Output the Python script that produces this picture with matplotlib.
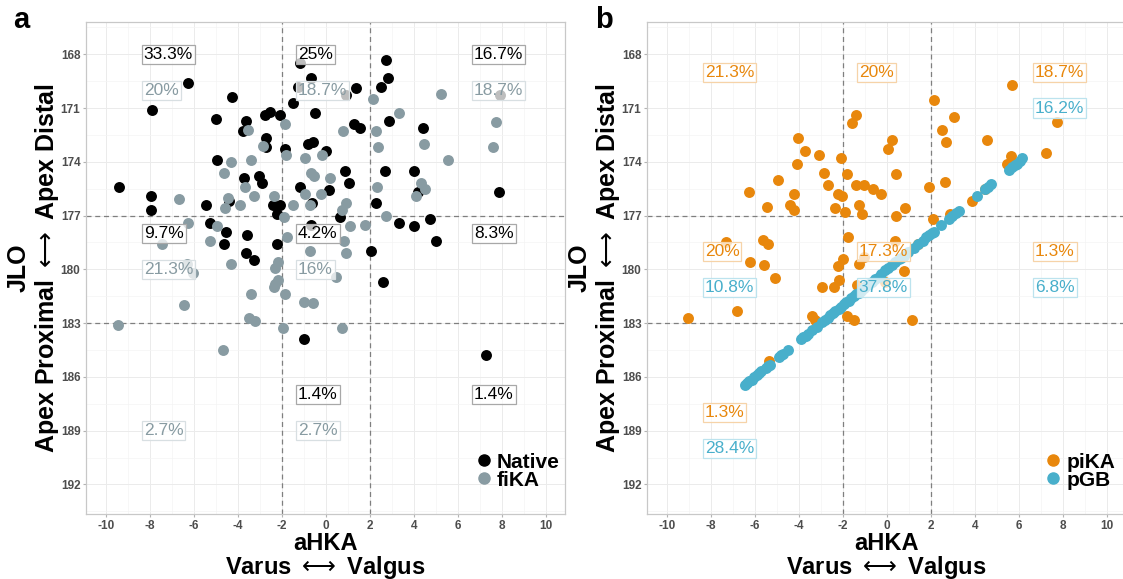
import matplotlib
matplotlib.use("Agg")
import matplotlib.pyplot as plt
import matplotlib.ticker as mticker
from matplotlib.lines import Line2D

plt.rcParams.update({
    "font.family": ["Liberation Sans", "DejaVu Sans"],
    "mathtext.fontset": "dejavusans",
    "axes.unicode_minus": False,
    "figure.facecolor": "white",
    "axes.facecolor": "white",
})

BLACK = "#000000"
GRAY = "#889BA2"
ORANGE = "#E8870C"
BLUE = "#48AFCB"
TICK_TXT = "#4D4D4D"

# ── Data: panel a ─────────────────────────────────────────────────────────────
native_x = [-6.25, -7.9, -4.26, -4.99, -3.62, -3.79, -2.79, -2.53, -2.09, -2.73, -2.73, -1.86,
            -4.94, -3.74, -3.03, -2.9, -9.4, -7.93, -7.97, -5.47, -4.4, -2.43, -2.11, -2.21,
            -1.18, -0.7, -1.5, -0.49, -0.82, -0.61, 0.01, -1.18, -0.64, 0.15, 0.86, 1.03,
            0.91, 1.36, 1.29, 1.56, -1.29,
            2.26, 2.7, 2.8, 2.5, 2.88, 4.41, 2.66, 4.0, 7.85, 4.17, 7.9,
            -5.26, -4.55, -4.65, -3.59, -3.64, -3.29, -2.23,
            -0.7, 0.64,
            3.3, 4.0, 4.7, 4.98, 2.05, 2.6,
            -0.99, 7.27]
native_y = [169.6, 171.1, 170.4, 171.6, 171.7, 172.3, 171.4, 171.2, 171.4, 172.7, 173.2, 173.3,
            173.9, 174.9, 174.8, 175.2, 175.4, 175.9, 176.7, 176.4, 176.2, 176.4, 176.4, 176.9,
            168.5, 169.3, 170.7, 171.3, 173.0, 172.9, 173.4, 175.4, 176.3, 175.6, 174.5, 175.2,
            170.3, 169.9, 171.9, 172.1, 169.8,
            176.3, 168.3, 169.3, 169.8, 171.7, 172.1, 174.5, 174.5, 175.7, 175.7, 170.3,
            177.4, 177.9, 178.6, 178.1, 179.1, 179.5, 178.6,
            177.5, 177.1,
            177.4, 177.6, 177.2, 178.4, 179.0, 180.7,
            183.9, 184.8]

fika_x = [2.12, 2.27, 2.35, -1.86, -3.56, -2.88, -1.84, -3.41, -4.32, -4.62, -3.7, -3.26, -2.36,
          -4.43, -3.93, -4.58, -6.7, -6.26, -4.93, -1.91, -1.52, -0.94, -0.7, -0.56, -0.2, 0.18,
          -0.94, -0.21, -0.71, 0.91, 0.73, 0.76, 1.09, 1.79, 5.2, 3.29, 4.44, 5.54, 7.71, 7.59,
          2.32, 4.32, 4.48, 4.07, 2.71, -7.44, -5.27, -4.32, -6.32, -6.06, -6.47, -9.47, -4.7,
          -3.41, -3.49, -3.21, -2.2, -2.3, -2.2, -2.38, -2.32, -1.77, -1.86, -1.94, -0.74, -1.0,
          -0.59, 0.44, 0.71, 0.8, 0.92]
fika_y = [170.5, 172.3, 173.2, 171.9, 172.2, 173.1, 173.6, 173.9, 174.0, 174.6, 175.4, 175.9, 175.9,
          176.0, 176.4, 176.6, 176.1, 177.4, 177.6, 177.1, 176.4, 173.8, 174.6, 174.8, 173.6, 174.9,
          175.8, 175.8, 176.4, 176.3, 176.7, 172.3, 177.6, 177.5, 170.2, 171.3, 173.0, 173.9, 171.8,
          173.2, 175.4, 175.2, 175.5, 175.9, 177.0, 178.6, 178.4, 179.7, 179.7, 180.2, 182.0, 183.1,
          184.5, 181.4, 182.7, 182.9, 179.6, 179.9, 180.6, 181.0, 180.8, 178.2, 181.4, 183.3, 179.0,
          181.8, 181.9, 180.4, 183.3, 178.4, 179.1]

native_lab_x = [-8.5, -1.5, 6.5, -8.5, -1.5, 6.5, -1.5, 6.5]
native_lab_y = [168, 168, 168, 178, 178, 178, 187, 187]
native_lab = ["33.3%", "25%", "16.7%", "9.7%", "4.2%", "8.3%", "1.4%", "1.4%"]

fika_lab_x = [-8.5, -1.5, 6.5, -8.5, -1.5, -8.5, -1.5]
fika_lab_y = [170, 170, 170, 180, 180, 189, 189]
fika_lab = ["20%", "18.7%", "18.7%", "21.3%", "16%", "2.7%", "2.7%"]

# ── Data: panel b ─────────────────────────────────────────────────────────────
pika_x = [-4.06, -3.71, -3.07, -2.1, -4.09, -2.86, -4.97, -2.66, -6.25, -4.23, -2.24, -2.04,
          -5.44, -4.39, -4.21, -2.35,
          -1.39, -1.59, -1.8, -1.41, -1.05, -0.62, -0.27, -1.89, -1.27, -1.14, 0.05, 0.23, 0.4,
          0.84, 1.9,
          5.67, 2.12, 3.05, 7.7, 2.49, 2.68, 4.56, 7.23, 5.65, 5.43, 4.47, 3.84, 2.84, 2.62,
          -7.32, -5.65, -5.41, -6.21, -5.6, -5.07, -9.05, -6.82, -2.23, -2.2, -2.39, -2.97,
          -3.41, -3.25, -2.0,
          -1.77, -1.82, -1.51, -1.29, -1.03, -1.36, 1.41, 0.38, 0.76, -0.07, 1.14, 0.41,
          2.09, -5.38]
pika_y = [172.7, 173.4, 173.6, 173.8, 174.1, 174.6, 175.0, 175.3, 175.7, 175.8, 175.8, 175.9,
          176.5, 176.4, 176.7, 176.6,
          171.4, 171.85, 174.7, 175.3, 175.3, 175.5, 175.8, 176.8, 176.4, 176.9, 173.3, 172.8,
          174.7, 176.6, 175.4,
          169.7, 170.55, 171.5, 171.8, 172.2, 172.9, 172.8, 173.5, 173.7, 174.1, 175.5, 176.2,
          176.9, 175.1,
          178.45, 178.35, 178.6, 179.6, 179.75, 180.5, 182.7, 182.3, 179.8, 180.6, 181.0, 181.0,
          182.6, 182.8, 179.4,
          178.2, 182.6, 182.85, 179.7, 179.3, 180.9, 178.6, 178.4, 180.1, 180.7, 182.85, 177.0,
          177.2, 185.1]

pgb_x = [-6.47, -6.35, -6.25, -6.14, -6.02, -5.91, -5.80, -5.70, -5.49, -5.40, -5.33, -4.92,
         -4.82, -4.72, -4.50, -3.89, -3.80, -3.70, -3.60, -3.41, -3.18,
         -2.95, -2.80, -2.68, -2.57, -2.45, -2.35, -2.20, -2.08,
         -1.97, -1.85, -1.74, -1.62, -1.51, -1.40, -1.29, -1.18, -1.06, -0.95, -0.80, -0.68,
         -0.55, -0.38, -0.25, -0.07, 0.05, 0.23, 0.38, 0.53, 0.65, 0.76, 0.95, 1.21, 1.40,
         1.62, 1.78, 1.90,
         2.05, 2.12, 2.43, 2.80, 2.93,
         3.14, 3.25, 4.09, 4.47, 4.60, 4.73, 5.56, 5.68, 5.80, 5.91, 6.03, 6.14]
pgb_y = [186.45, 186.35, 186.25, 186.15, 186.0, 185.9, 185.8, 185.7, 185.5, 185.4, 185.35, 184.9,
         184.8, 184.7, 184.5, 183.9, 183.8, 183.7, 183.6, 183.4, 183.2,
         182.95, 182.8, 182.7, 182.55, 182.45, 182.35, 182.2, 182.1,
         181.95, 181.85, 181.75, 181.6, 181.5, 181.4, 181.3, 181.2, 181.05, 180.95, 180.8, 180.7,
         180.55, 180.4, 180.25, 180.05, 179.95, 179.75, 179.6, 179.45, 179.35, 179.25, 179.05,
         178.8, 178.6, 178.4, 178.2, 178.1,
         177.95, 177.9, 177.55, 177.2, 177.05,
         176.85, 176.75, 175.9, 175.5, 175.4, 175.25, 174.45, 174.3, 174.2, 174.1, 173.95, 173.8]

pika_lab_x = [-8.5, -1.5, 6.5, -8.5, -1.5, 6.5, -8.5]
pika_lab_y = [169, 169, 169, 179, 179, 179, 188]
pika_lab = ["21.3%", "20%", "18.7%", "20%", "17.3%", "1.3%", "1.3%"]

pgb_lab_x = [6.5, -8.5, -1.5, 6.5, -8.5]
pgb_lab_y = [171, 181, 181, 181, 190]
pgb_lab = ["16.2%", "10.8%", "37.8%", "6.8%", "28.4%"]

X_CUTS = [-2, 2]
Y_CUTS = [177, 183]


def style_panel(ax):
    ax.set_xlim(-10.9, 10.85)
    ax.set_ylim(193.65, 166.2)
    ax.set_xticks(range(-10, 11, 2))
    ax.set_yticks(range(168, 193, 3))
    ax.xaxis.set_minor_locator(mticker.MultipleLocator(1))
    ax.yaxis.set_minor_locator(mticker.MultipleLocator(1.5))
    ax.grid(which="major", color="#EBEBEB", linewidth=0.7, zorder=0)
    ax.grid(which="minor", color="#F4F4F4", linewidth=0.5, zorder=0)
    ax.set_axisbelow(True)
    for sp in ax.spines.values():
        sp.set_color("#C8C8C8")
        sp.set_linewidth(0.9)
    ax.tick_params(which="major", length=2.5, color="#B3B3B3", labelsize=8.5,
                   labelcolor=TICK_TXT, pad=1.5)
    ax.tick_params(which="minor", length=0)
    for lab in ax.get_xticklabels() + ax.get_yticklabels():
        lab.set_fontweight("bold")
    for xc in X_CUTS:
        ax.axvline(xc, color="#7F7F7F", linestyle=(0, (4, 3)), linewidth=0.9, zorder=1)
    for yc in Y_CUTS:
        ax.axhline(yc, color="#7F7F7F", linestyle=(0, (4, 3)), linewidth=0.9, zorder=1)
    ax.set_xlabel("aHKA\nVarus $\\longleftrightarrow$ Valgus", fontsize=17, fontweight="bold",
                  linespacing=0.95, labelpad=0)
    ax.set_ylabel("JLO\nApex Proximal $\\longleftrightarrow$ Apex Distal", fontsize=18,
                  fontweight="bold", linespacing=1.1, labelpad=0)


def put_labels(ax, xs, ys, texts, color, edge):
    for x, y, t in zip(xs, ys, texts):
        ax.text(x + 0.22, y, t, ha="left", va="center", fontsize=12.5, color=color, zorder=6,
                bbox=dict(boxstyle="square,pad=0.12", fc=(1, 1, 1, 0.75), ec=edge, lw=0.9))


fig = plt.figure(figsize=(11.23, 5.79), dpi=100)
ax1 = fig.add_axes([0.0766, 0.1123, 0.4265, 0.8497])
ax2 = fig.add_axes([0.5761, 0.1123, 0.4265, 0.8497])

# ── Panel a ──
style_panel(ax1)
ax1.scatter(native_x, native_y, s=62, color=BLACK, linewidths=0, zorder=3)
ax1.scatter(fika_x, fika_y, s=62, color=GRAY, linewidths=0, zorder=3)
put_labels(ax1, native_lab_x, native_lab_y, native_lab, BLACK, "#A8A8A8")
put_labels(ax1, fika_lab_x, fika_lab_y, fika_lab, GRAY, "#D8DFE2")
h1 = [Line2D([], [], marker="o", ls="", color=BLACK, markersize=8, label="Native"),
      Line2D([], [], marker="o", ls="", color=GRAY, markersize=8, label="fiKA")]
ax1.legend(handles=h1, loc="lower right", bbox_to_anchor=(1.02, 0.02), frameon=False,
           prop={"weight": "bold", "size": 15}, handletextpad=0.15, handlelength=1.0,
           labelspacing=-0.05, borderpad=0.2)

# ── Panel b ──
style_panel(ax2)
ax2.scatter(pika_x, pika_y, s=62, color=ORANGE, linewidths=0, zorder=3)
ax2.scatter(pgb_x, pgb_y, s=62, color=BLUE, linewidths=0, zorder=3)
put_labels(ax2, pika_lab_x, pika_lab_y, pika_lab, ORANGE, "#F6D3A8")
put_labels(ax2, pgb_lab_x, pgb_lab_y, pgb_lab, BLUE, "#BCE3EE")
h2 = [Line2D([], [], marker="o", ls="", color=ORANGE, markersize=8, label="piKA"),
      Line2D([], [], marker="o", ls="", color=BLUE, markersize=8, label="pGB")]
ax2.legend(handles=h2, loc="lower right", bbox_to_anchor=(1.008, 0.02), frameon=False,
           prop={"weight": "bold", "size": 15}, handletextpad=0.15, handlelength=1.0,
           labelspacing=-0.05, borderpad=0.2)

fig.text(0.012, 0.99, "a", fontsize=21, fontweight="bold", va="top", ha="left")
fig.text(0.530, 0.99, "b", fontsize=21, fontweight="bold", va="top", ha="left")

fig.savefig("out.png", dpi=100)
